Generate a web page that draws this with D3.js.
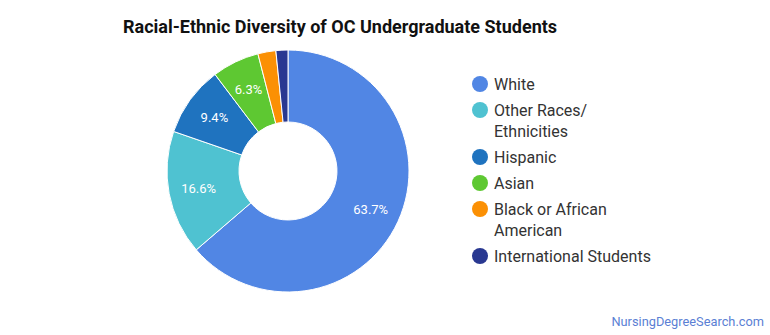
<!DOCTYPE html>
<html><head><meta charset="utf-8">
<script src="https://cdn.jsdelivr.net/npm/d3@7"></script>
<style>body{margin:0;background:#fff}svg{display:block;font-family:Roboto,sans-serif}</style>
</head><body>
<svg id="c" width="770" height="335"></svg>
<script>
const categories = ["White", "Other Races/ Ethnicities", "Hispanic", "Asian", "Black or African American", "International Students"];
const legendLines = [["White"], ["Other Races/", "Ethnicities"], ["Hispanic"], ["Asian"], ["Black or African", "American"], ["International Students"]];
const values = [63.7, 16.6, 9.4, 6.3, 2.4, 1.6];
const colors = ["#5186e4", "#4fc2d1", "#1f73bf", "#5ec832", "#fb9004", "#293891"];

const svg = d3.select("#c");
svg.append("text").attr("x", 123).attr("y", 33).attr("font-size", 18).attr("font-weight", "bold").attr("fill", "#111")
  .text("Racial-Ethnic Diversity of OC Undergraduate Students");

const cx = 288, cy = 171, R = 121, r0 = 49;
const pie = d3.pie().sort(null).value(d => d)(values);
const arc = d3.arc().innerRadius(r0).outerRadius(R);
const labelArc = d3.arc().innerRadius(91).outerRadius(91);
const g = svg.append("g").attr("transform", `translate(${cx},${cy})`);
g.selectAll("path").data(pie).join("path").attr("d", arc).attr("fill", (d, i) => colors[i])
  .attr("stroke", "#fff").attr("stroke-width", 1);
g.selectAll("text").data(pie.filter(d => d.data >= 5)).join("text")
  .attr("transform", d => `translate(${labelArc.centroid(d)})`)
  .attr("text-anchor", "middle").attr("dy", "0.35em").attr("font-size", 13).attr("fill", "#fff")
  .text(d => d.data.toFixed(1) + "%");

const lg = svg.append("g");
let y = 84;
legendLines.forEach((lines, i) => {
  lg.append("circle").attr("cx", 480).attr("cy", y).attr("r", 8).attr("fill", colors[i]);
  lines.forEach((t, j) => {
    lg.append("text").attr("x", 494).attr("y", y + j * 21).attr("dy", "0.35em").attr("font-size", 16).attr("fill", "#333").text(t);
  });
  y += 26 + (lines.length - 1) * 21;
});

svg.append("text").attr("x", 764).attr("y", 326).attr("text-anchor", "end").attr("font-size", 12.8).attr("fill", "#5b7fd4")
  .text("NursingDegreeSearch.com");
</script>
</body></html>
